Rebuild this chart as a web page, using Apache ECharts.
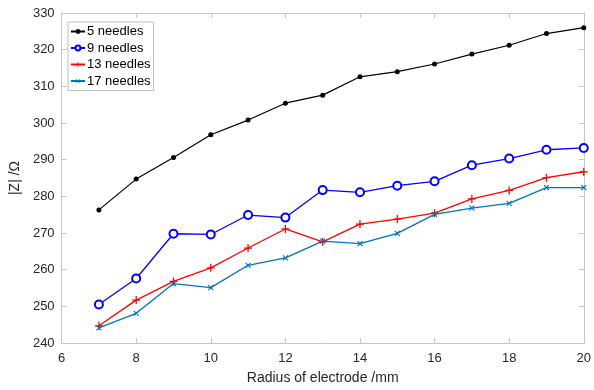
<!DOCTYPE html>
<html>
<head>
<meta charset="utf-8">
<script src="https://cdn.jsdelivr.net/npm/echarts@6/dist/echarts.min.js"></script>
<style>
  html, body { margin: 0; padding: 0; background: #fff; }
  #chart { width: 594px; height: 390px; }
</style>
</head>
<body>
<div id="chart"></div>
<script>
// Electrode radius (mm) and impedance magnitude |Z| (Ω) for each needle count
const radius = [7, 8, 9, 10, 11, 12, 13, 14, 15, 16, 17, 18, 19, 20];
const needles5  = [276.3, 284.7, 290.6, 296.8, 300.8, 305.4, 307.6, 312.6, 314.0, 316.1, 318.8, 321.2, 324.4, 326.0];
const needles9  = [250.5, 257.6, 269.8, 269.6, 274.9, 274.2, 281.7, 281.1, 282.9, 284.1, 288.5, 290.3, 292.7, 293.2];
const needles13 = [244.7, 251.7, 256.8, 260.5, 265.9, 271.1, 267.6, 272.4, 273.8, 275.4, 279.3, 281.6, 285.1, 286.7];
const needles17 = [244.1, 248.1, 256.2, 255.1, 261.2, 263.2, 267.8, 267.1, 269.9, 275.1, 276.8, 278.1, 282.4, 282.4];
const seriesNames = ['5 needles', '9 needles', '13 needles', '17 needles'];

const FONT = '"Liberation Sans", Arial, Helvetica, sans-serif';
const AXIS_GRAY = '#c6c6c6';
const TEXT = '#262626';
const PLUS = 'path://M4.2,0H5.8V4.2H10V5.8H5.8V10H4.2V5.8H0V4.2H4.2Z';

const pairs = ys => radius.map((x, i) => [x, ys[i]]);

function frameAxis(extra) {
  return Object.assign({
    axisLine: { show: true, lineStyle: { color: AXIS_GRAY, width: 1 } },
    axisTick: { show: true, inside: true, length: 5, lineStyle: { color: AXIS_GRAY } },
    splitLine: { show: false },
  }, extra);
}

const chart = echarts.init(document.getElementById('chart'), null, { renderer: 'canvas' });

chart.setOption({
  animation: false,
  backgroundColor: '#fff',
  textStyle: { fontFamily: FONT },
  grid: { left: 57, right: 8, top: 13, bottom: 44, containLabel: false },
  legend: {
    orient: 'vertical',
    left: 68, top: 22,
    data: seriesNames,
    itemWidth: 14, itemHeight: 6, itemGap: 3.5,
    padding: [3, 3, 3, 2],
    borderColor: '#bdbdbd', borderWidth: 1,
    backgroundColor: '#fff',
    textStyle: { fontFamily: FONT, fontSize: 13, color: '#000', padding: [0, 0, 0, -3] },
  },
  xAxis: [
    frameAxis({
      type: 'value', min: 6, max: 20, interval: 2, position: 'bottom',
      name: 'Radius of electrode /mm', nameLocation: 'middle', nameGap: 28,
      nameTextStyle: { fontFamily: FONT, fontSize: 14, color: TEXT },
      axisLabel: { fontFamily: FONT, fontSize: 13, color: TEXT, margin: 9 },
    }),
    frameAxis({
      type: 'value', min: 6, max: 20, interval: 2, position: 'top',
      axisLabel: { show: false },
    }),
  ],
  yAxis: [
    frameAxis({
      type: 'value', min: 240, max: 330, interval: 10, position: 'left',
      name: '|Z| /Ω', nameLocation: 'middle', nameGap: 30,
      nameTextStyle: { fontFamily: FONT, fontSize: 14, color: TEXT },
      axisLabel: { fontFamily: FONT, fontSize: 13, color: TEXT, margin: 7 },
    }),
    frameAxis({
      type: 'value', min: 240, max: 330, interval: 10, position: 'right',
      axisLabel: { show: false },
    }),
  ],
  series: [
    {
      name: seriesNames[0], type: 'line', data: pairs(needles5),
      symbol: 'circle', symbolSize: 5,
      lineStyle: { color: '#000', width: 1.2 },
      itemStyle: { color: '#000' },
    },
    {
      name: seriesNames[1], type: 'line', data: pairs(needles9),
      symbol: 'emptyCircle', symbolSize: 8,
      lineStyle: { color: '#0000ff', width: 1.3 },
      itemStyle: { color: '#0000ff', borderColor: '#0000ff', borderWidth: 1.2 },
    },
    {
      name: seriesNames[2], type: 'line', data: pairs(needles13),
      symbol: PLUS, symbolSize: 8,
      lineStyle: { color: '#ff0000', width: 1.3 },
      itemStyle: { color: '#ff0000', borderWidth: 0 },
    },
    {
      name: seriesNames[3], type: 'line', data: pairs(needles17),
      symbol: PLUS, symbolSize: 7, symbolRotate: 45,
      lineStyle: { color: '#0072BD', width: 1.3 },
      itemStyle: { color: '#0072BD', borderWidth: 0 },
    },
  ],
});
</script>
</body>
</html>
